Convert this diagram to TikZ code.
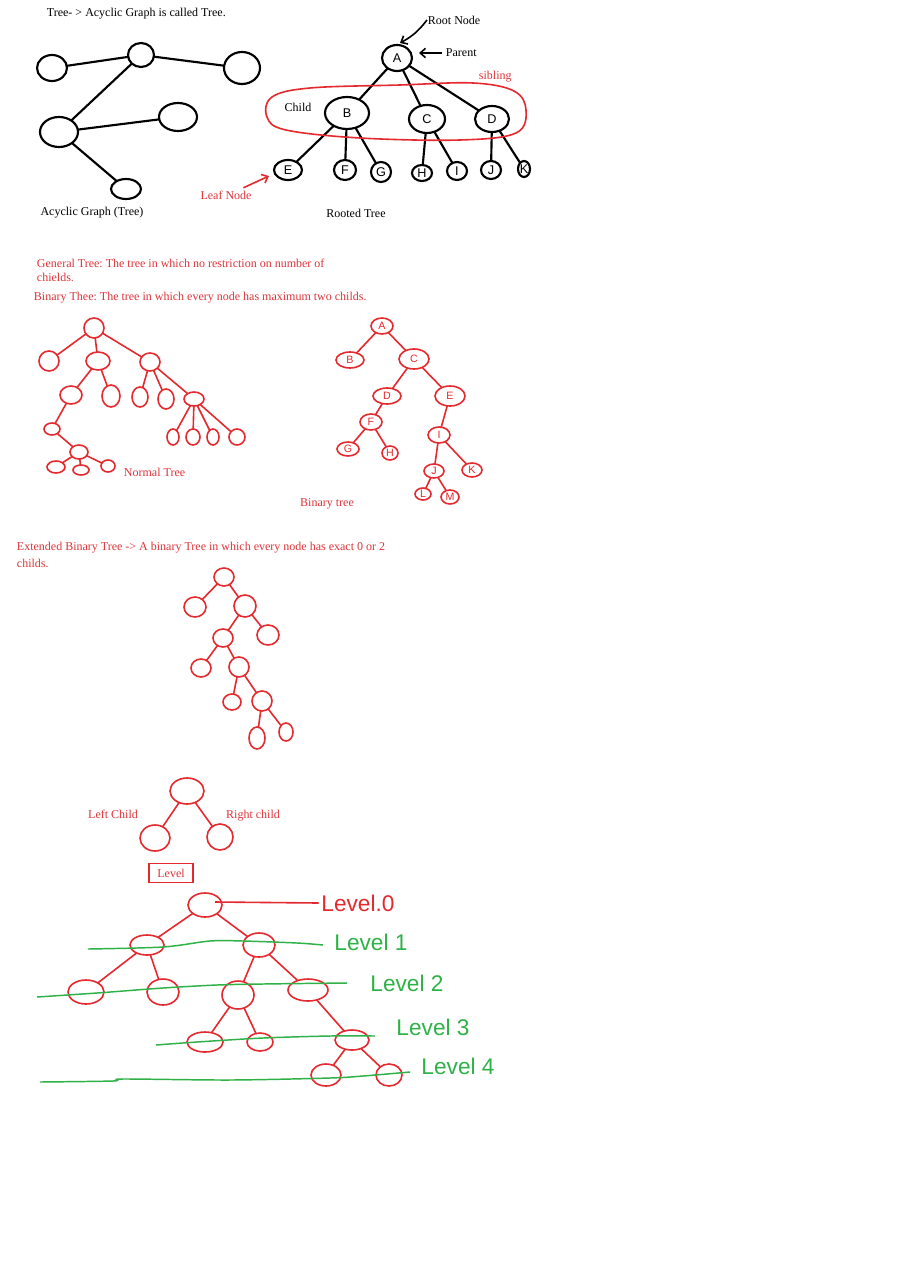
\documentclass[tikz,border=0pt]{standalone}
\usepackage{fontspec}
\setmainfont{Liberation Serif}
\newfontfamily\hand{Liberation Sans}
\usetikzlibrary{shapes.geometric,arrows.meta}
\definecolor{rd}{RGB}{228,42,46}
\definecolor{rtxt}{RGB}{222,52,58}
\definecolor{gr}{RGB}{46,178,72}
\frenchspacing
\newcommand\el[6][]{\node[ell,#1,minimum width=#5*1.5pt,minimum height=#6*1.5pt] (#2) at (#3,#4) {};}
\tikzset{
  ell/.style={ellipse,draw,inner sep=0pt,outer sep=0pt},
  bn/.style={line width=1.6pt,draw=black},
  rn/.style={line width=1.2pt,draw=rd},
  bedge/.style={line width=1.6pt,draw=black},
  redge/.style={line width=1.2pt,draw=rd},
  gline/.style={line width=1.1pt,draw=gr},
  blt/.style={label={[font=\hand\fontsize{9.5}{10}\selectfont,inner sep=0pt]center:#1}},
  rlt/.style={label={[text=rd,font=\hand\fontsize{8}{8}\selectfont,inner sep=0pt]center:#1}},
  txt/.style={font=\fontsize{9}{10}\selectfont,inner sep=0.5pt,text=black},
  rtx/.style={font=\fontsize{9}{10}\selectfont,inner sep=0.5pt,text=rtxt},
  big/.style={font=\hand\fontsize{17}{17}\selectfont,inner sep=0pt},
  barb/.style={-{Straight Barb[length=4pt,width=7pt]}}
}
\begin{document}
\frenchspacing
\begin{tikzpicture}[x=0.75pt,y=-0.75pt]
\fill[white] (0,0) rectangle (919,1280);
\useasboundingbox (0,0) rectangle (919,1280);

% ---------- acyclic graph ----------
\node[txt,anchor=west] (t1) at (46,14) {Tree- > Acyclic Graph is called Tree.};
\el[bn]{g1}{52}{68}{15}{13}
\el[bn]{g2}{141}{55}{13}{12}
\el[bn]{g3}{242}{68}{18}{16}
\el[bn]{g4}{178}{117}{19}{14}
\el[bn]{g5}{59}{132}{19}{15}
\el[bn]{g6}{126}{189}{15}{10}
\draw[bedge] (g1) -- (g2);
\draw[bedge] (g2) -- (g3);
\draw[bedge] (g2) -- (g5);
\draw[bedge] (g5) -- (g4);
\draw[bedge] (g5) -- (g6);
\node[txt] (t2) at (92,213) {Acyclic Graph (Tree)};

% ---------- rooted tree ----------
\el[bn,blt=A]{A}{397}{58}{15}{13}
\el[bn,blt=B]{B}{347}{113}{22}{16}
\el[bn,blt=C]{C}{427}{119}{18}{14}
\el[bn,blt=D]{D}{492}{119}{17}{13}
\el[bn,blt=E]{E}{288}{170}{14}{10}
\el[bn,blt=F]{F}{345}{170}{11}{10}
\el[bn,blt=G]{G}{381}{172}{10}{10}
\el[bn,blt=H]{H}{422}{173}{10}{8}
\el[bn,blt=I]{I}{457}{171}{10}{9}
\el[bn,blt=J]{J}{491}{170}{10}{9}
\el[bn,blt=K]{K}{524}{169}{6}{8}
\foreach \a/\b in {A/B,A/C,A/D,B/E,B/F,B/G,C/H,C/I,D/J,D/K}
  \draw[bedge] (\a) -- (\b);
\draw[rn] plot[smooth cycle,tension=0.6] coordinates {(267,117) (272,97) (310,88) (400,85) (473,83) (514,91) (526,110) (516,133) (460,140) (360,138) (286,130)};
\node[txt,anchor=west] (rootn) at (427,20) {Root Node};
\node[txt,anchor=west] (par) at (445,53) {Parent};
\node[rtx,anchor=west] (sib) at (478,77) {sibling};
\node[txt] (ch) at (298,107) {Child};
\node[rtx] (leaf) at (226,195) {Leaf Node};
\node[txt] (rt) at (356,213) {Rooted Tree};
\draw[line width=1.2pt,barb] (rootn.west) to[bend left=12] ([shift={(3,-2)}]A.north);
\draw[line width=1.2pt,barb] ([xshift=-2pt]par.west) -- ([shift={(7,-5)}]A.east);
\draw[line width=1.2pt,draw=rd,barb] ([shift={(-9,-2)}]leaf.north east) -- ([shift={(-5,6)}]E.west);

% ---------- general / binary definitions ----------
\node[rtx,anchor=west] (gt1) at (36,263) {General Tree: The tree in which no restriction on number of};
\node[rtx,anchor=west] (gt2) at (36,277) {chields.};
\node[rtx,anchor=west] (bt) at (33,298) {Binary Thee: The tree in which every node has maximum two childs.};

% ---------- normal tree ----------
\el[rn]{n0}{94}{328}{10}{10}
\el[rn]{n1}{49}{361}{10}{10}
\el[rn]{n2}{98}{361}{12}{9}
\el[rn]{n3}{150}{362}{10}{9}
\el[rn]{n4}{71}{395}{11}{9}
\el[rn]{n5}{111}{396}{9}{11}
\el[rn]{n6}{140}{397}{8}{10}
\el[rn]{n7}{166}{399}{8}{10}
\el[rn]{n8}{194}{399}{10}{7}
\el[rn]{n9}{52}{429}{8}{6}
\el[rn]{n10}{173}{437}{6}{8}
\el[rn]{n11}{193}{437}{7}{8}
\el[rn]{n12}{213}{437}{6}{8}
\el[rn]{n13}{237}{437}{8}{8}
\el[rn]{n14}{79}{452}{9}{7}
\el[rn]{n15}{56}{467}{9}{6}
\el[rn]{n16}{81}{470}{8}{5}
\el[rn]{n17}{108}{466}{7}{6}
\foreach \a/\b in {n0/n1,n0/n2,n0/n3,n2/n4,n2/n5,n3/n6,n3/n7,n3/n8,n4/n9,n9/n14,n14/n15,n14/n16,n14/n17,n8/n10,n8/n11,n8/n12,n8/n13}
  \draw[redge] (\a) -- (\b);
\node[rtx,anchor=west] (nt) at (123,472) {Normal Tree};

% ---------- binary tree ----------
\el[rn,rlt=A]{bA}{382}{326}{11}{8}
\el[rn,rlt=B]{bB}{350}{360}{14}{8}
\el[rn,rlt=C]{bC}{414}{359}{15}{10}
\el[rn,rlt=D]{bD}{387}{396}{14}{8}
\el[rn,rlt=E]{bE}{450}{396}{15}{10}
\el[rn,rlt=F]{bF}{371}{422}{11}{8}
\el[rn,rlt=G]{bG}{348}{449}{11}{7}
\el[rn,rlt=H]{bH}{390}{453}{8}{7}
\el[rn,rlt=I]{bI}{439}{435}{11}{8}
\el[rn,rlt=J]{bJ}{434}{471}{10}{7}
\el[rn,rlt=K]{bK}{472}{470}{10}{7}
\el[rn,rlt=L]{bL}{423}{494}{8}{6}
\el[rn,rlt=M]{bM}{450}{497}{9}{7}
\foreach \a/\b in {bA/bB,bA/bC,bC/bD,bC/bE,bD/bF,bF/bG,bF/bH,bE/bI,bI/bJ,bI/bK,bJ/bL,bJ/bM}
  \draw[redge] (\a) -- (\b);
\node[rtx] (btl) at (327,504) {Binary tree};

% ---------- extended binary tree ----------
\node[rtx,anchor=west] (eb1) at (16,548) {Extended Binary Tree -> A binary Tree in which every node has exact 0 or 2};
\node[rtx,anchor=west] (eb2) at (16,563) {childs.};
\el[rn]{e0}{224}{577}{10}{9}
\el[rn]{e1}{195}{607}{11}{10}
\el[rn]{e2}{245}{606}{11}{11}
\el[rn]{e3}{223}{638}{10}{9}
\el[rn]{e4}{268}{635}{11}{10}
\el[rn]{e5}{201}{668}{10}{9}
\el[rn]{e6}{239}{667}{10}{10}
\el[rn]{e7}{232}{702}{9}{8}
\el[rn]{e8}{262}{701}{10}{10}
\el[rn]{e9}{257}{738}{8}{11}
\el[rn]{e10}{286}{732}{7}{9}
\foreach \a/\b in {e0/e1,e0/e2,e2/e3,e2/e4,e3/e5,e3/e6,e6/e7,e6/e8,e8/e9,e8/e10}
  \draw[redge] (\a) -- (\b);

% ---------- left / right child ----------
\el[rn]{p}{187}{791}{17}{13}
\el[rn]{lch}{155}{838}{15}{13}
\el[rn]{rch}{220}{837}{13}{13}
\draw[redge] (p) -- (lch);
\draw[redge] (p) -- (rch);
\node[rtx] (lct) at (113,814) {Left Child};
\node[rtx] (rct) at (253,816) {Right child};
\node[rtx,draw=rd,line width=0.9pt,minimum width=44*0.75pt,minimum height=19*0.75pt] (lvl) at (171,873) {Level};

% ---------- levels ----------
\el[rn]{r}{205}{905}{17}{12}
\el[rn]{la}{147}{945}{17}{10}
\el[rn]{lb}{259}{945}{16}{12}
\el[rn]{lc}{86}{992}{18}{12}
\el[rn]{ld}{163}{992}{16}{13}
\el[rn]{le}{238}{995}{16}{14}
\el[rn]{lf}{308}{990}{20}{11}
\el[rn]{lg}{205}{1042}{18}{10}
\el[rn]{lh}{260}{1042}{13}{9}
\el[rn]{li}{352}{1040}{17}{10}
\el[rn]{lj}{326}{1075}{15}{11}
\el[rn]{lk}{389}{1075}{13}{11}
\foreach \a/\b in {r/la,r/lb,la/lc,la/ld,lb/le,lb/lf,le/lg,le/lh,lf/li,li/lj,li/lk}
  \draw[redge] (\a) -- (\b);
\node[big,text=rd] (lv0) at (358,903) {Level.0};
\node[big,text=gr] (lv1) at (371,942) {Level 1};
\node[big,text=gr] (lv2) at (407,983) {Level 2};
\node[big,text=gr] (lv3) at (433,1027) {Level 3};
\node[big,text=gr] (lv4) at (458,1066) {Level 4};
\draw[redge] ([shift={(10,-3)}]r.center) -- ([xshift=-2pt]lv0.west);
\draw[gline] plot[smooth] coordinates {(88,949) (163,947) (210,941) (243,941) (297,943) (323,945)};
\draw[gline] plot[smooth] coordinates {(37,997) (97,993) (163,988) (217,985) (263,984) (347,983)};
\draw[gline] plot[smooth] coordinates {(156,1045) (197,1042) (263,1038) (330,1036) (375,1036)};
\draw[gline] plot[smooth] coordinates {(40,1082) (113,1081) (123,1079) (230,1080) (330,1078) (363,1076) (410,1072)};
\end{tikzpicture}
\end{document}
